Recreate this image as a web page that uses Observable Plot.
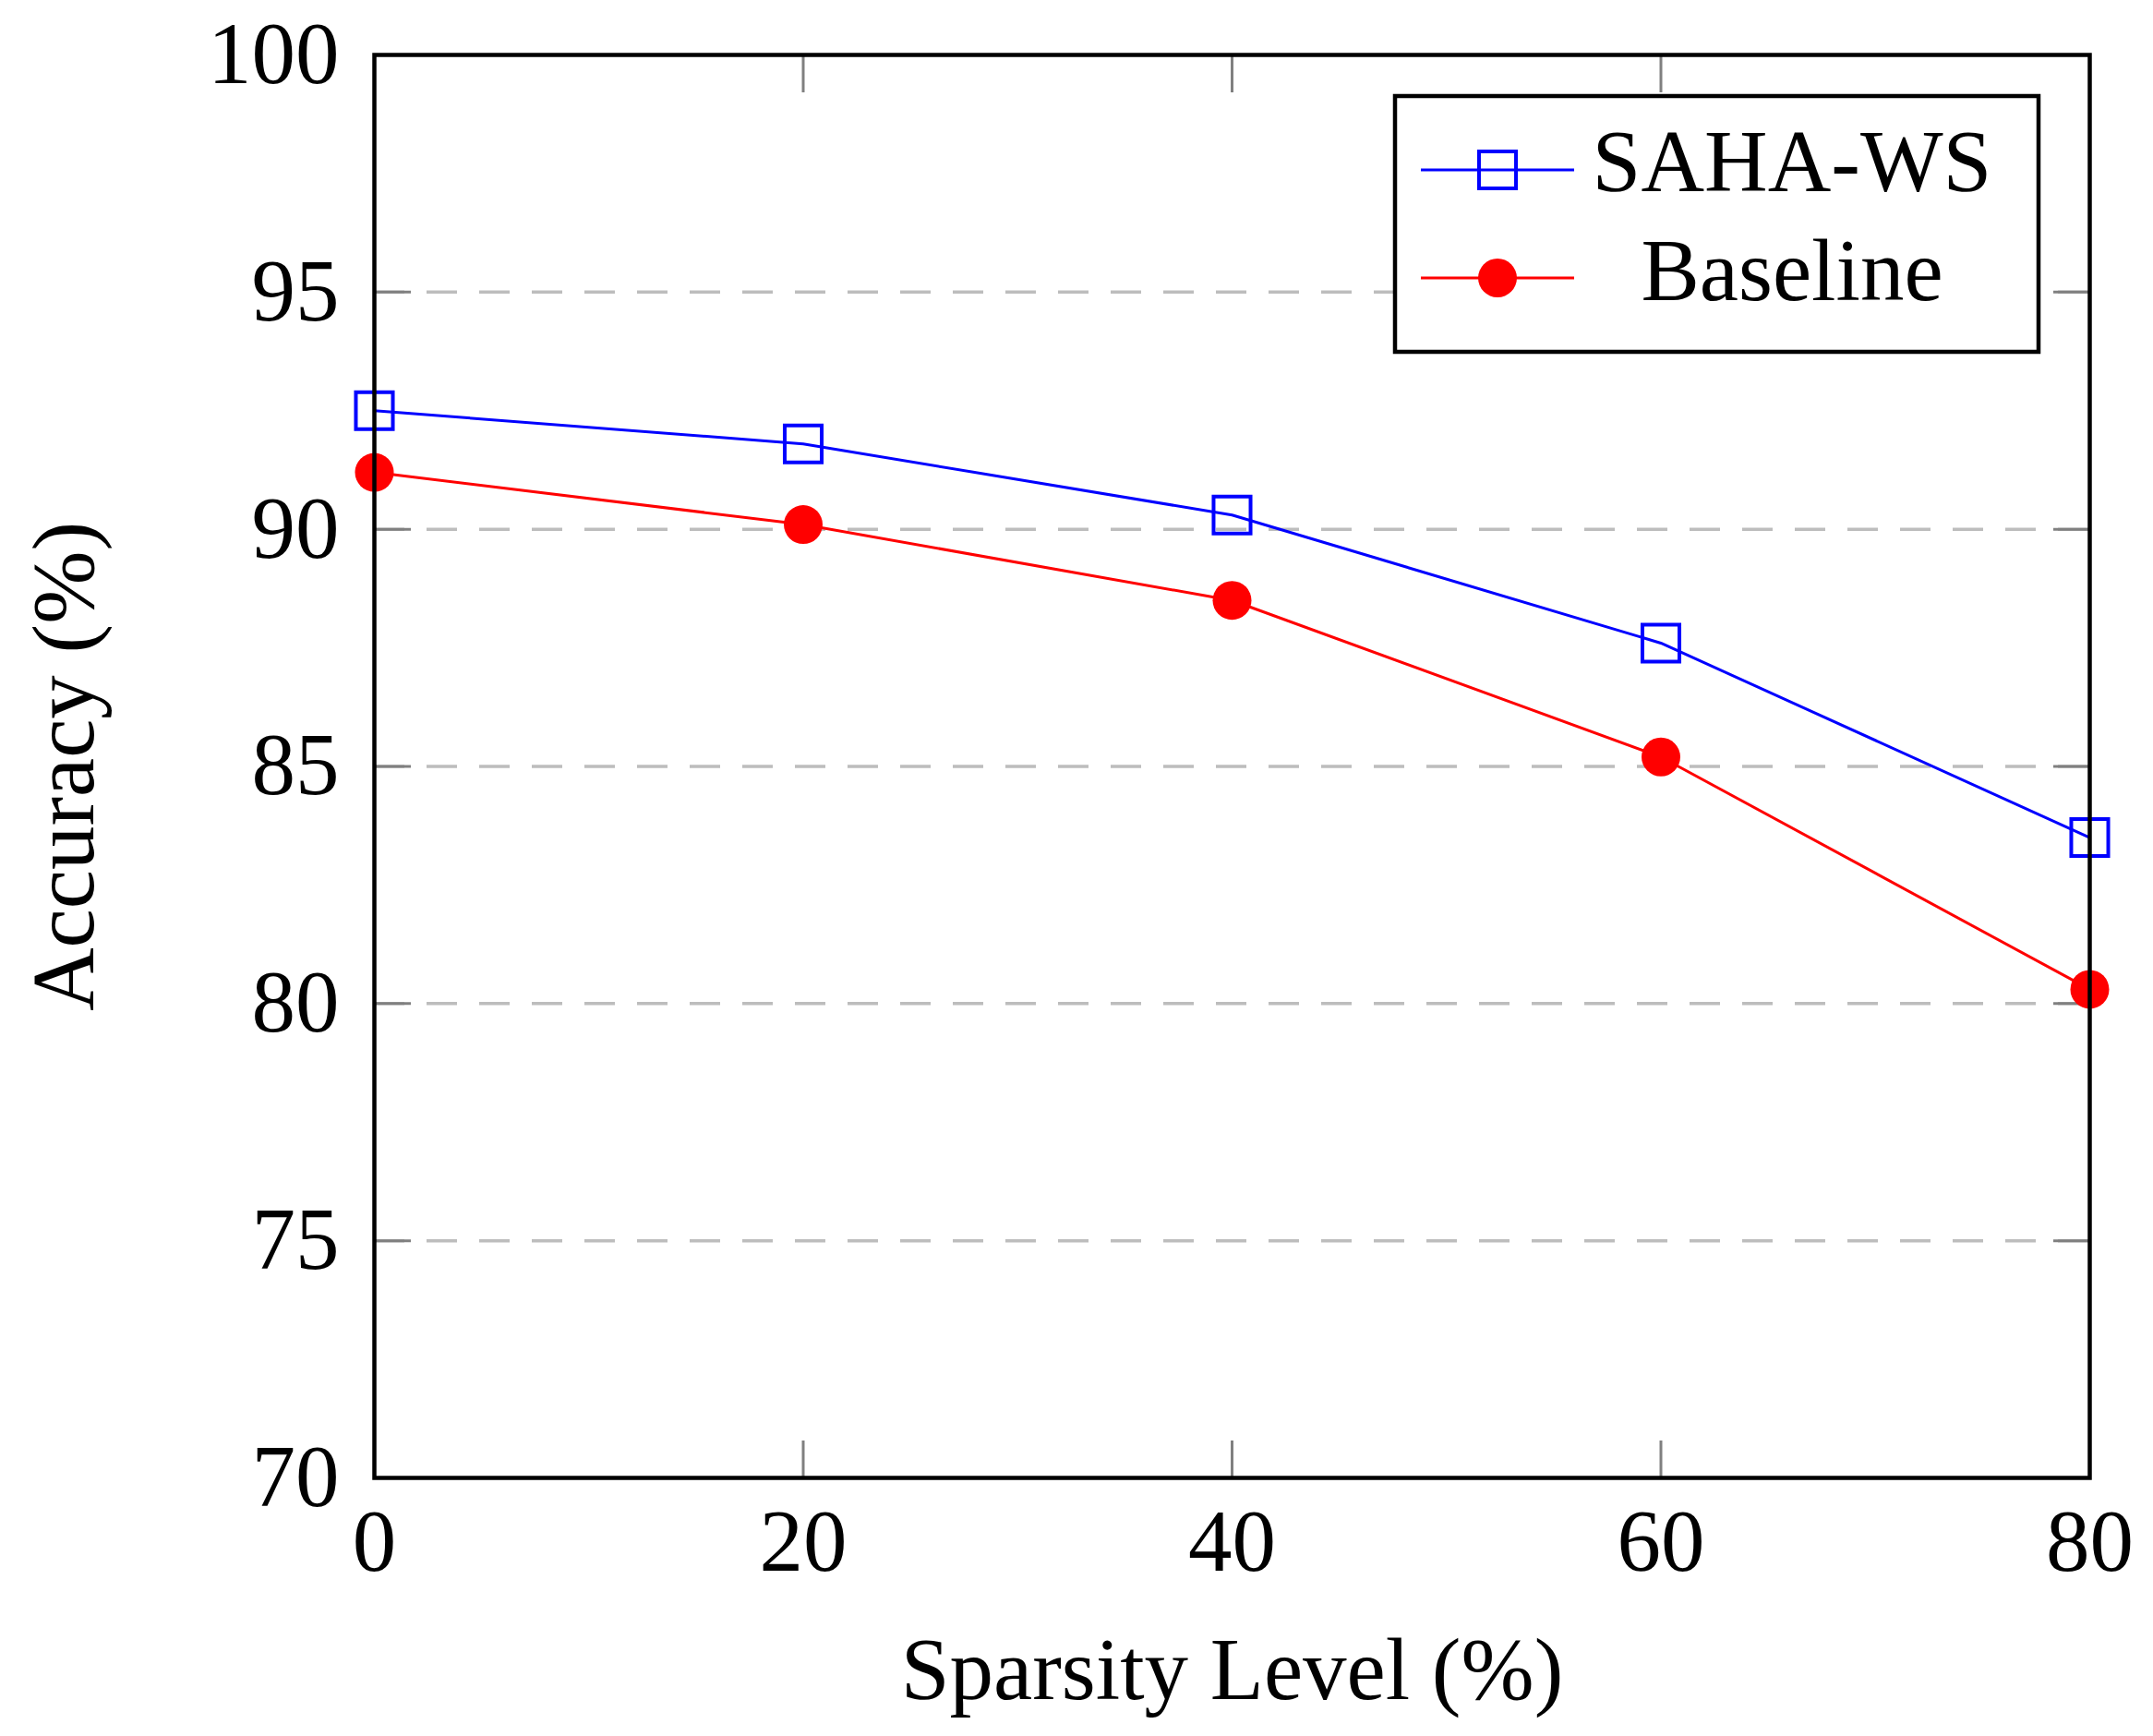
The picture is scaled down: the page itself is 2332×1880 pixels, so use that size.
<!DOCTYPE html>
<html><head><meta charset="utf-8">
<script src="https://cdn.jsdelivr.net/npm/d3@7"></script>
<script src="https://cdn.jsdelivr.net/npm/@observablehq/plot@0.6"></script>
<style>html,body{margin:0;padding:0;background:#fff;} svg{display:block}</style>
</head><body><div id="chart"></div>
<script>
const sparsity = [0, 20, 40, 60, 80];
const sahaWS = [92.5, 91.8, 90.3, 87.6, 83.5];
const baseline = [91.2, 90.1, 88.5, 85.2, 80.3];
const xTicks = [0, 20, 40, 60, 80];
const yTicks = [70, 75, 80, 85, 90, 95, 100];
const gridTicks = [75, 80, 85, 90, 95];
const seriesNames = ["SAHA-WS", "Baseline"];
const seriesColors = ["#0000ff", "#ff0000"];
const xLabel = "Sparsity Level (%)";
const yLabel = "Accuracy (%)";

const sahaData = sparsity.map((s, i) => ({x: s, y: sahaWS[i]}));
const baseData = sparsity.map((s, i) => ({x: s, y: baseline[i]}));

const FONT = "'Liberation Serif', 'Times New Roman', serif";
const tickColor = "#808080";

const plot = Plot.plot({
  width: 2332,
  height: 1880,
  marginLeft: 405,
  marginRight: 69,
  marginTop: 59,
  marginBottom: 280,
  style: {fontFamily: FONT, fontSize: "95px", background: "white", color: "black"},
  x: {domain: [0, 80]},
  y: {domain: [70, 100]},
  marks: [
    Plot.ruleY(gridTicks, {stroke: "#bdbdbd", strokeWidth: 3.5, strokeDasharray: "33 24"}),
    Plot.axisY(yTicks, {anchor: "left", tickSize: -40, tickPadding: 78, tickFormat: d => String(d), stroke: tickColor, fill: "black", strokeWidth: 3, fontSize: 95, label: null}),
    Plot.axisY(yTicks, {anchor: "right", tickSize: -40, tickFormat: () => "", stroke: tickColor, strokeWidth: 3, label: null}),
    Plot.axisX(xTicks, {anchor: "bottom", tickSize: -40, tickPadding: 73, tickFormat: d => String(d), stroke: tickColor, fill: "black", strokeWidth: 3, fontSize: 95, label: null}),
    Plot.axisX(xTicks, {anchor: "top", tickSize: -40, tickFormat: () => "", stroke: tickColor, strokeWidth: 3, label: null}),
    Plot.line(sahaData, {x: "x", y: "y", stroke: seriesColors[0], strokeWidth: 3}),
    Plot.line(baseData, {x: "x", y: "y", stroke: seriesColors[1], strokeWidth: 3}),
    Plot.dot(sahaData, {x: "x", y: "y", symbol: "square", r: 22.6, stroke: seriesColors[0], strokeWidth: 4, fill: "none"}),
    Plot.dot(baseData, {x: "x", y: "y", symbol: "circle", r: 21, fill: seriesColors[1], stroke: "none"}),
    Plot.frame({stroke: "black", strokeWidth: 4.5}),
    Plot.text([xLabel], {text: d => d, frameAnchor: "bottom", dy: 239, lineAnchor: "bottom", textAnchor: "middle", fontSize: 95, fill: "black"}),
    Plot.text([yLabel], {text: d => d, frameAnchor: "left", dx: -305, rotate: -90, lineAnchor: "bottom", textAnchor: "middle", fontSize: 95, fill: "black"})
  ]
});
document.getElementById("chart").appendChild(plot);

// Legend box inside the plot area (upper right)
const svg = d3.select(plot);
const lg = svg.append("g").attr("class", "legend");
lg.append("rect").attr("x", 1511).attr("y", 104).attr("width", 697).attr("height", 277)
  .attr("fill", "white").attr("stroke", "black").attr("stroke-width", 4.5);
const rowsY = [184, 301];
const baselinesY = [207, 325];
seriesNames.forEach((name, i) => {
  lg.append("line").attr("x1", 1539).attr("x2", 1705).attr("y1", rowsY[i]).attr("y2", rowsY[i])
    .attr("stroke", seriesColors[i]).attr("stroke-width", 3);
  if (i === 0) {
    lg.append("path").attr("transform", `translate(1622,${rowsY[i]})`)
      .attr("d", d3.symbol(d3.symbolSquare, Math.PI * 22.6 * 22.6)())
      .attr("fill", "none").attr("stroke", seriesColors[i]).attr("stroke-width", 4);
  } else {
    lg.append("circle").attr("cx", 1622).attr("cy", rowsY[i]).attr("r", 21).attr("fill", seriesColors[i]);
  }
  lg.append("text").attr("x", 1941).attr("y", baselinesY[i]).attr("text-anchor", "middle")
    .attr("font-family", FONT).attr("font-size", 95).attr("fill", "black").text(name);
});
</script>
</body></html>
